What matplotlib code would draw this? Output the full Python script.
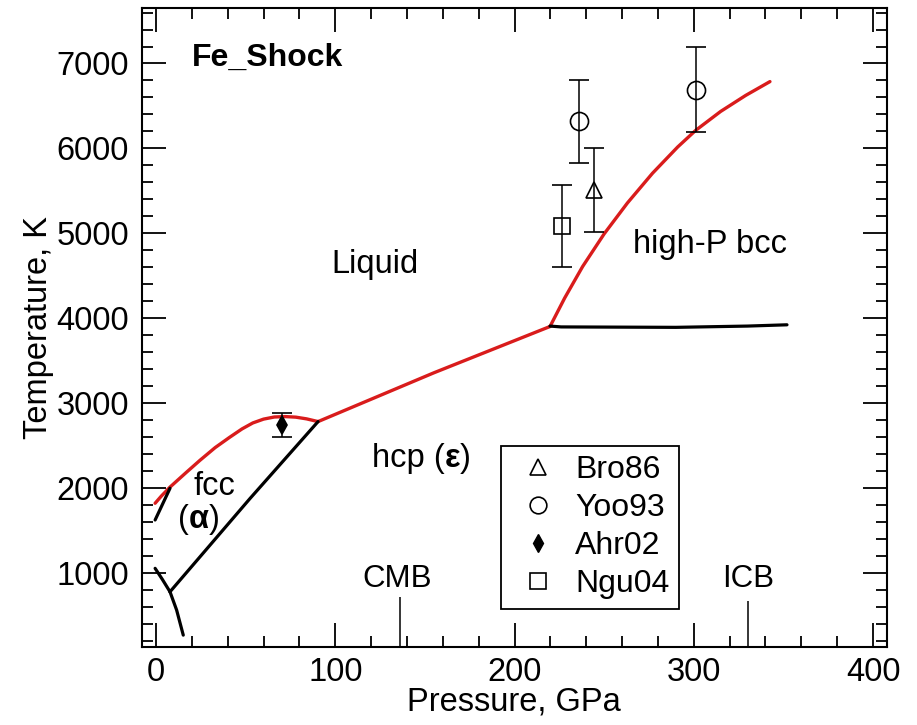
import matplotlib
matplotlib.use("Agg")
import matplotlib.pyplot as plt
from matplotlib.lines import Line2D
from matplotlib.ticker import MultipleLocator

plt.rcParams['font.family'] = ['Liberation Sans', 'DejaVu Sans']

# ---- data ----
melt_fcc_P = [-0.5, 3, 7.8, 12, 17, 24.5, 33, 41, 48, 54, 60, 66, 72, 78, 84, 90.4]
melt_fcc_T = [1825, 1910, 2015, 2095, 2190, 2330, 2480, 2600, 2700, 2770, 2815, 2840, 2845, 2838, 2818, 2786]
melt_hcp_P = [90.4, 155, 219.8]
melt_hcp_T = [2786, 3360, 3905]
melt_bcc_P = [219.8, 228, 238, 250, 263, 277, 291, 301, 315, 329, 342.5]
melt_bcc_T = [3905, 4241, 4611, 4995, 5359, 5709, 6017, 6212, 6436, 6625, 6787]

delta_gamma_P = [-0.5, 7.8]
delta_gamma_T = [1628, 2001]
alpha_gamma_P = [-0.5, 3.5, 7.8]
alpha_gamma_T = [1059, 930, 783]
alpha_eps_P = [7.8, 11.5, 15.2]
alpha_eps_T = [783, 568, 273]
gamma_eps_P = [7.8, 52.4, 90.4]
gamma_eps_T = [783, 1880, 2786]
hcp_bcc_P = [219.8, 226, 290, 330, 352]
hcp_bcc_T = [3910, 3900, 3895, 3910, 3925]

bro_P, bro_T, bro_err = [244.3], [5510], [490]
yoo_P, yoo_T, yoo_err = [236.2, 301.0], [6320, 6690], [490, 500]
ahr_P, ahr_T, ahr_err = [70.1], [2745], [140]
ngu_P, ngu_T, ngu_err = [226.3], [5090], [485]

CMB_P, ICB_P = 136, 330

RED = '#d91c1c'

fig = plt.figure(figsize=(9.17, 7.25), dpi=100)
ax = fig.add_axes([0.1545, 0.1072, 0.8124, 0.8814])

lw_c = 2.4
ax.plot(melt_fcc_P, melt_fcc_T, color=RED, lw=lw_c, solid_capstyle='round')
ax.plot(melt_hcp_P, melt_hcp_T, color=RED, lw=lw_c, solid_capstyle='round')
ax.plot(melt_bcc_P, melt_bcc_T, color=RED, lw=lw_c, solid_capstyle='round')
for P, T in [(delta_gamma_P, delta_gamma_T), (alpha_gamma_P, alpha_gamma_T),
             (alpha_eps_P, alpha_eps_T), (gamma_eps_P, gamma_eps_T),
             (hcp_bcc_P, hcp_bcc_T)]:
    ax.plot(P, T, color='black', lw=2.3, solid_capstyle='round')

ekw = dict(color='black', ecolor='black', elinewidth=1.1, capsize=7, capthick=1.1,
           linestyle='none', markeredgewidth=1.2)
ax.errorbar(bro_P, bro_T, yerr=bro_err, marker='^', ms=12, mfc='none', **ekw)
ax.errorbar(yoo_P, yoo_T, yerr=yoo_err, marker='o', ms=13, mfc='none', **ekw)
ax.errorbar(ahr_P, ahr_T, yerr=ahr_err, marker='d', ms=9, mfc='black', **ekw)
ax.errorbar(ngu_P, ngu_T, yerr=ngu_err, marker='s', ms=12, mfc='none', **ekw)

ax.vlines([CMB_P, ICB_P], 130, [720, 680], color='black', lw=1.1)

ax.set_xlim(-8, 407.6)
ax.set_ylim(130, 7650)
ax.xaxis.set_major_locator(MultipleLocator(100))
ax.xaxis.set_minor_locator(MultipleLocator(20))
ax.yaxis.set_major_locator(MultipleLocator(1000))
ax.yaxis.set_minor_locator(MultipleLocator(200))
ax.tick_params(which='both', direction='in', top=True, right=True, width=1.3,
               labelsize=23.5, colors='black')
ax.tick_params(which='major', length=17)
ax.tick_params(which='minor', length=8)
ax.tick_params(axis='y', pad=9)
ax.tick_params(axis='x', pad=7)
for s in ax.spines.values():
    s.set_linewidth(1.5)

ax.set_xlabel('Pressure, GPa', fontsize=23.5, labelpad=-1)
ax.set_ylabel('Temperature, K', fontsize=23.5, labelpad=2)

fs = 23.5
ax.text(19.9, 7070, 'Fe_Shock', fontsize=23, fontweight='bold', ha='left', va='center')
ax.text(122.2, 4632, 'Liquid', fontsize=fs, ha='center', va='center')
ax.text(309.3, 4868, 'high-P bcc', fontsize=fs, ha='center', va='center')
ax.text(32.4, 2020, 'fcc', fontsize=fs, ha='center', va='center')
ax.text(134.5, 933, 'CMB', fontsize=22.5, ha='center', va='center')
ax.text(330.3, 933, 'ICB', fontsize=22.5, ha='center', va='center')


def chain(x, y, pieces):
    prev = ax.text(x, y, pieces[0][0], fontsize=fs, fontweight=pieces[0][1],
                   ha='left', va='baseline')
    for txt, wt in pieces[1:]:
        prev = ax.annotate(txt, xy=(1, 0), xycoords=prev, fontsize=fs,
                           fontweight=wt, ha='left', va='bottom')
    return prev


chain(120.5, 2250, [('hcp (', 'normal'), ('ε', 'bold'), (')', 'normal')])
chain(12.3, 1530, [('(', 'normal'), ('α', 'bold'), (')', 'normal')])

handles = [
    Line2D([], [], ls='none', marker='^', ms=12, mfc='none', mec='black', mew=1.2),
    Line2D([], [], ls='none', marker='o', ms=12, mfc='none', mec='black', mew=1.2),
    Line2D([], [], ls='none', marker='d', ms=9, mfc='black', mec='black'),
    Line2D([], [], ls='none', marker='s', ms=11, mfc='none', mec='black', mew=1.2),
]
leg = ax.legend(handles, ['Bro86', 'Yoo93', 'Ahr02', 'Ngu04'], loc='lower left',
                bbox_to_anchor=(0.483, 0.060), borderaxespad=0, fontsize=23,
                frameon=True, fancybox=False, edgecolor='black', framealpha=1,
                handlelength=1.7, handletextpad=0.3, labelspacing=0.25,
                borderpad=0.3)
leg.get_frame().set_linewidth(1.3)

fig.savefig('out.png', dpi=100)
